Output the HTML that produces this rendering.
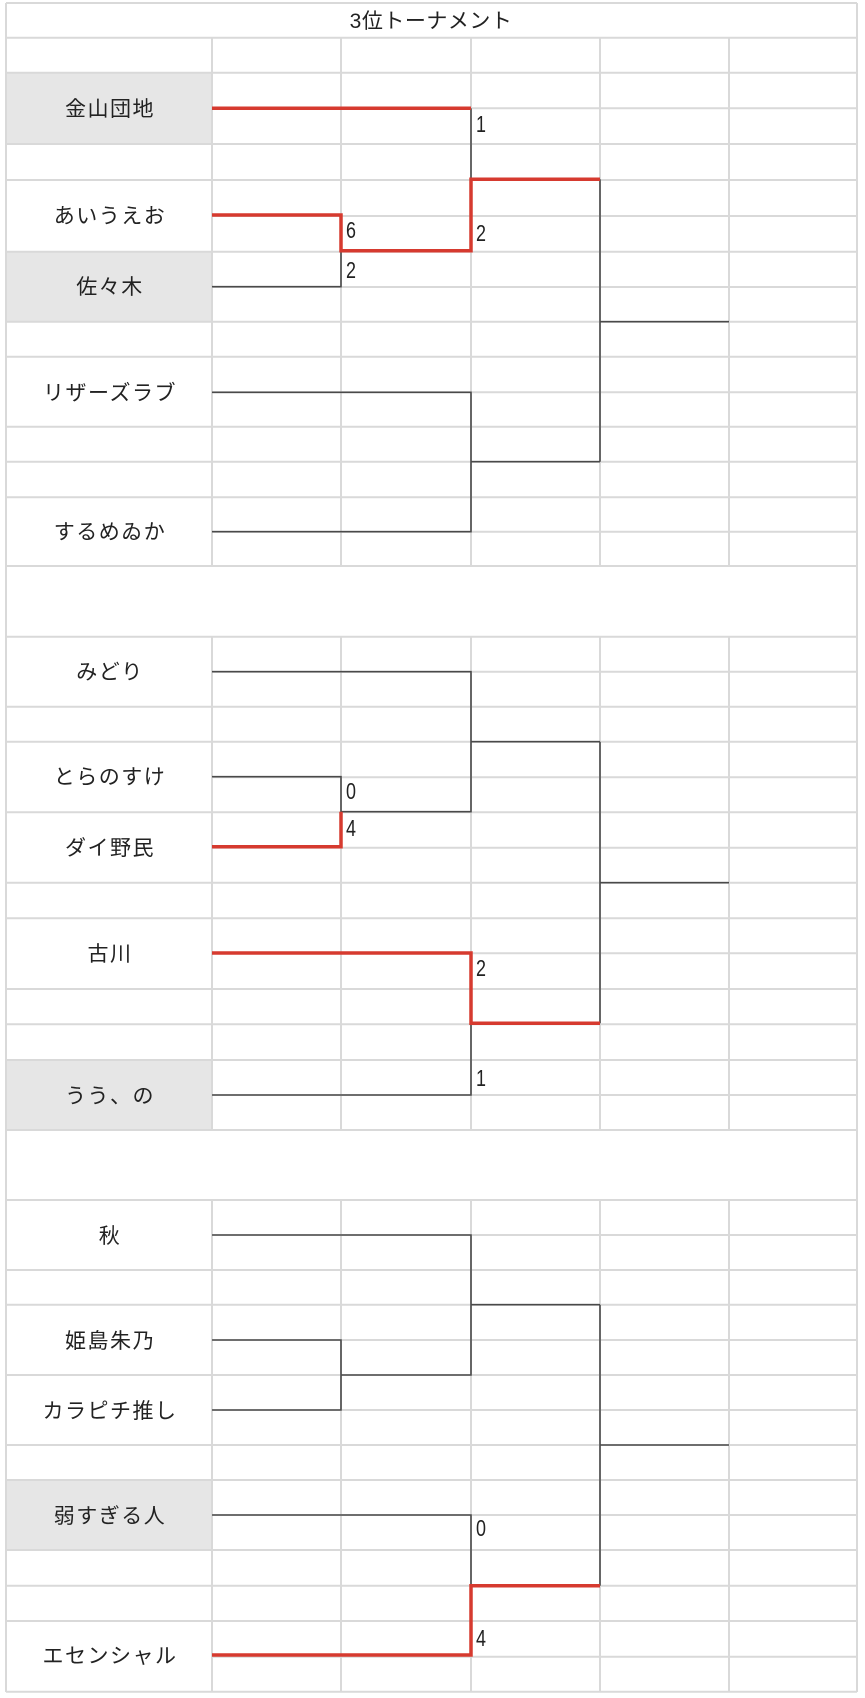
<!DOCTYPE html>
<html><head><meta charset="utf-8"><style>
html,body{margin:0;padding:0;background:#fff;}
svg{display:block;}
.n{font-family:"Liberation Sans","Noto Sans CJK JP",sans-serif;font-size:21px;fill:#222;text-anchor:middle;letter-spacing:1.5px;}
.d{font-family:"Liberation Sans",sans-serif;font-size:23px;fill:#222;}
</style></head><body>
<svg width="865" height="1698" viewBox="0 0 865 1698" xmlns="http://www.w3.org/2000/svg">
<rect width="865" height="1698" fill="#fff"/>
<g fill="#e6e6e6">
<rect x="6" y="72.7" width="206" height="71.3"/>
<rect x="6" y="251.7" width="206" height="70"/>
<rect x="6" y="1060" width="206" height="70"/>
<rect x="6" y="1480" width="206" height="70"/>
</g>
<g stroke="#d9d9d9" stroke-width="2" fill="none">
<path d="M6 3H857M6 37.7H857M6 566H857M6 636.7H857M6 1130H857M6 1200H857M6 1691.7H857"/>
<path d="M6 3V1692M857 3V1692"/>
<path d="M212 37.7V566M341 37.7V566M471 37.7V566M600 37.7V566M729 37.7V566"/>
<path d="M212 636.7V1130M341 636.7V1130M471 636.7V1130M600 636.7V1130M729 636.7V1130"/>
<path d="M212 1200V1692M341 1200V1692M471 1200V1692M600 1200V1692M729 1200V1692"/>
<path d="M212 72.7H857M212 108.3H857M212 144H857M212 180H857M212 216H857M212 251.7H857M212 287H857M212 321.7H857M212 356.7H857M212 392.3H857M212 426.7H857M212 461.7H857M212 497.3H857M212 531.7H857"/>
<path d="M6 72.7H212M6 144H212M6 180H212M6 251.7H212M6 321.7H212M6 356.7H212M6 426.7H212M6 461.7H212M6 497.3H212"/>
<path d="M212 671.7H857M212 706.7H857M212 741.7H857M212 777.3H857M212 812.3H857M212 847.7H857M212 882.7H857M212 918.3H857M212 953.3H857M212 989H857M212 1024.3H857M212 1060H857M212 1095H857"/>
<path d="M6 706.7H212M6 741.7H212M6 812.3H212M6 882.7H212M6 918.3H212M6 989H212M6 1024.3H212M6 1060H212"/>
<path d="M212 1235H857M212 1270H857M212 1304.7H857M212 1340H857M212 1375H857M212 1410H857M212 1445H857M212 1480H857M212 1515H857M212 1550H857M212 1585.7H857M212 1621H857M212 1656.7H857"/>
<path d="M6 1270H212M6 1304.7H212M6 1375H212M6 1445H212M6 1480H212M6 1550H212M6 1585.7H212M6 1621H212"/>
</g>
<g stroke="#4a4a4a" stroke-width="1.6" fill="none">
<path d="M471 108.3V180"/>
<path d="M212 286.7H341V250.7"/>
<path d="M600 179.3V461.7M600 321.7H729"/>
<path d="M212 392.3H471V531.7H212M471 461.7H600"/>
<path d="M212 671.7H471V811.7H341V776.7H212M471 741.7H600"/>
<path d="M212 1095H471V1023.3"/>
<path d="M600 741.7V1023.3M600 882.7H729"/>
<path d="M212 1235H471V1375H341M471 1304.7H600"/>
<path d="M212 1340H341V1410H212"/>
<path d="M212 1515H471V1585.7"/>
<path d="M600 1304.7V1585.7M600 1445H729"/>
</g>
<g stroke="#d63a2f" stroke-width="3.5" fill="none">
<path d="M212 108.3H471"/>
<path d="M212 215H341V250.7H471V179.3H600"/>
<path d="M212 846.7H341V811.7"/>
<path d="M212 953H471V1023.3H600"/>
<path d="M212 1655H471V1585.7H600"/>
</g>
<text x="431" y="28" class="n" style="letter-spacing:0.5px">3位トーナメント</text>
<text x="110" y="116" class="n">金山団地</text>
<text x="110" y="223" class="n">あいうえお</text>
<text x="110" y="294" class="n">佐々木</text>
<text x="110" y="400" class="n">リザーズラブ</text>
<text x="110" y="539" class="n">するめゐか</text>
<text x="110" y="679" class="n">みどり</text>
<text x="110" y="784" class="n">とらのすけ</text>
<text x="110" y="855" class="n">ダイ野民</text>
<text x="110" y="961" class="n">古川</text>
<text x="110" y="1103" class="n">うう、の</text>
<text x="110" y="1243" class="n">秋</text>
<text x="110" y="1348" class="n">姫島朱乃</text>
<text x="110" y="1418" class="n">カラピチ推し</text>
<text x="110" y="1523" class="n">弱すぎる人</text>
<text x="110" y="1663" class="n">エセンシャル</text>
<text transform="translate(476,132) scale(0.78,1)" class="d">1</text>
<text transform="translate(346,238) scale(0.78,1)" class="d">6</text>
<text transform="translate(346,278) scale(0.78,1)" class="d">2</text>
<text transform="translate(476,241) scale(0.78,1)" class="d">2</text>
<text transform="translate(346,799) scale(0.78,1)" class="d">0</text>
<text transform="translate(346,836) scale(0.78,1)" class="d">4</text>
<text transform="translate(476,976) scale(0.78,1)" class="d">2</text>
<text transform="translate(476,1086) scale(0.78,1)" class="d">1</text>
<text transform="translate(476,1536) scale(0.78,1)" class="d">0</text>
<text transform="translate(476,1646) scale(0.78,1)" class="d">4</text>
</svg>
</body></html>
